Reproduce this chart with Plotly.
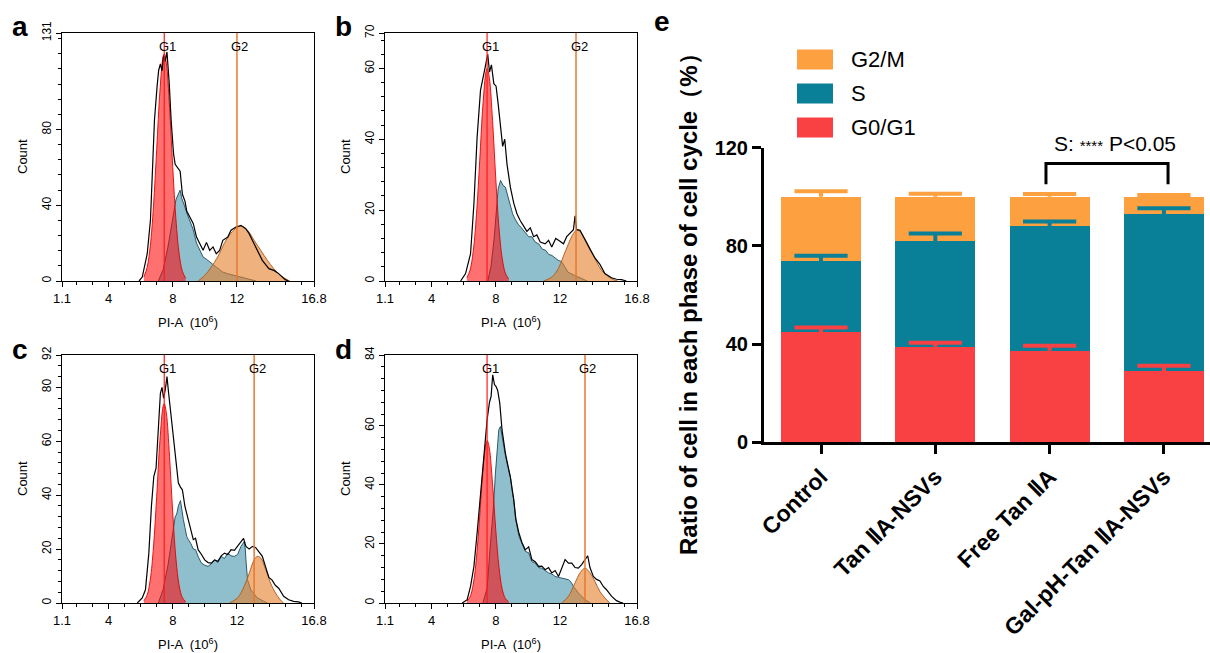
import plotly.graph_objects as go

W, H = 1210, 653

# ---------------- Panel e: percentage of cells in each phase ----------------
groups = ["Control", "Tan ⅡA-NSVs", "Free Tan ⅡA", "Gal-pH-Tan ⅡA-NSVs"]
g0g1_pct = [44.8, 38.9, 37.3, 29.0]
s_pct = [29.0, 43.1, 50.8, 63.9]
g2m_pct = [26.2, 18.0, 11.9, 7.1]
g0g1_err = [2.0, 1.6, 2.0, 2.2]
s_err = [2.2, 3.1, 1.8, 2.4]
g2m_err = [2.3, 1.2, 1.1, 0.7]
e_yticks = [0, 40, 80, 120]
phase_names = ["G2/M", "S", "G0/G1"]

# ---------------- Panels a-d: PI-A histograms ----------------
pi_ticks = [1.1, 4, 8, 12, 16.8]
pi_ticklabels = ["1.1", "4", "8", "12", "16.8"]
pi_minor = [2, 3, 5, 6, 7, 9, 10, 11, 13, 14, 15, 16]
g1_grid = [6.2, 6.4, 6.6, 6.8, 7.0, 7.2, 7.4, 7.47, 7.6, 7.8, 8.0, 8.2, 8.4, 8.6, 8.8]

# panel a
a_yticks = [0, 40, 80, 131]
a_yminor = [8, 16, 24, 32, 48, 56, 64, 72, 88, 96, 104, 112, 120, 128]
a_gates = [7.47, 12.0]
a_hist_x = [5.90, 6.10, 6.41, 6.61, 6.76, 6.86, 7.02, 7.12, 7.23, 7.33,
            7.43, 7.53, 7.64, 7.74, 7.78, 7.90, 8.05, 8.15, 8.29, 8.46,
            8.60, 8.76, 8.87, 9.07, 9.28, 9.48, 9.69, 9.89, 10.10, 10.30,
            10.51, 10.71, 10.92, 11.12, 11.43, 11.63, 11.94, 12.25, 12.55, 12.76,
            12.96, 13.27, 13.58, 13.99, 14.30, 14.60, 14.81, 15.01, 15.22]
a_hist_y = [0, 2.1, 14.4, 32.0, 63.7, 84.8, 102.4, 111.2, 114.7, 111.0,
            119.0, 116.0, 121.0, 112.0, 104.6, 84.8, 67.2, 61.6, 59.8, 58.0,
            45.8, 42.2, 37.0, 33.4, 30.3, 23.2, 19.7, 16.2, 20.4, 16.2,
            18.0, 14.4, 16.2, 21.5, 23.2, 26.8, 28.5, 29.4, 27.6, 25.0,
            21.5, 16.2, 10.9, 6.5, 5.6, 3.9, 2.1, 0.7, 0]
a_g1_y = [2.2, 7.1, 18.5, 39.6, 69.6, 100.2, 118.6, 120, 115.1, 91.7, 60, 32.2, 14.2, 5.1, 1.5]
a_s_x = [7.1, 7.4, 7.7, 7.9, 8.05, 8.2, 8.35, 8.46, 8.55, 8.65, 8.76, 8.87, 8.97, 9.1,
         9.28, 9.48, 9.69, 9.89, 10.1, 10.3, 10.5, 10.7, 10.9, 11.1, 11.4, 11.8, 12.2, 12.8, 13.2]
a_s_y = [0, 6, 18, 28, 37, 43, 46, 48, 44, 41, 39, 36, 34, 31,
         27, 20, 16, 12.7, 11.5, 10, 9, 7.4, 6.2, 4.8, 3.9, 3, 2, 0.7, 0]
a_g2_x = [9.58, 10.0, 10.4, 10.8, 11.2, 11.6, 12.04, 12.25, 12.66, 13.07, 13.48, 13.89, 14.3, 14.7, 15.12, 15.3]
a_g2_y = [0, 3, 7.4, 12.7, 19.7, 25, 28.5, 29, 26.8, 21.5, 16.2, 11, 6.5, 3, 0.7, 0]

# panel b
b_yticks = [0, 20, 40, 60, 70]
b_yminor = [4, 8, 12, 16, 24, 28, 32, 36, 44, 48, 52, 56, 64, 68]
b_gates = [7.46, 13.0]
b_hist_x = [5.81, 6.12, 6.43, 6.64, 6.84, 7.05, 7.26, 7.40,
            7.50, 7.61, 7.73, 7.88, 8.02, 8.15, 8.29, 8.43, 8.56, 8.70,
            8.91, 9.12, 9.32, 9.53, 9.74, 9.94, 10.15, 10.36, 10.56, 10.77,
            11.08, 11.29, 11.49, 11.74, 11.91, 12.22, 12.42, 12.63, 12.84, 12.94,
            13.04, 13.25, 13.56, 13.87, 14.18, 14.49, 14.80, 15.21, 15.52, 15.83, 16.14]
b_hist_y = [0, 2.1, 7.7, 21.8, 40.6, 53.8, 58.5, 61.5,
            64, 59, 61, 55.7, 55, 50, 44.4, 38, 40, 33,
            26.5, 22, 19, 17, 15.5, 14, 15, 12.5, 13, 11,
            10.5, 11.5, 9.6, 12, 11.5, 10.5, 12.5, 13.4, 14.5, 18.4,
            14.5, 14.3, 11.5, 9, 6.5, 4.7, 2.1, 0.9, 0.5, 0.4, 0]
b_g1_y = [0.9, 3.1, 8.5, 18.8, 33.9, 49.7, 59.2, 60, 57.4, 45.3, 29, 15.1, 6.4, 2.2, 0.6]
b_s_x = [7.5, 7.7, 7.9, 8.05, 8.15, 8.3, 8.45, 8.6, 8.75, 8.91,
         9.05, 9.2, 9.4, 9.6, 9.84, 10.05, 10.25, 10.45, 10.67, 10.9,
         11.1, 11.3, 11.5, 11.7, 11.9, 12.1, 12.3, 12.5, 12.9, 13.3, 13.7]
b_s_y = [0, 4, 12, 20, 26, 28.4, 27, 26.5, 24, 21,
         19, 17.5, 16, 15, 13.5, 12.5, 12.5, 11, 10.5, 9,
         8.7, 7.5, 7.2, 6.5, 5.8, 5.5, 4, 2.5, 1.6, 0.7, 0]
b_g2_x = [10.98, 11.49, 11.9, 12.2, 12.53, 12.84, 13.1, 13.35, 13.66, 13.97, 14.28, 14.59, 14.9, 15.32, 15.6]
b_g2_y = [0, 1.1, 3.5, 6.8, 10.5, 13.4, 14.5, 13.4, 11, 8.2, 5.4, 3, 1.6, 0.4, 0]

# panel c
c_yticks = [0, 20, 40, 60, 80, 92]
c_yminor = [4, 8, 12, 16, 24, 28, 32, 36, 44, 48, 52, 56, 64, 68, 72, 76, 84, 88]
c_gates = [7.47, 13.07]
c_hist_x = [5.79, 6.10, 6.30, 6.51, 6.67, 6.82, 6.96, 7.08, 7.23, 7.33,
            7.43, 7.53, 7.64, 7.74, 7.84, 7.94, 8.09, 8.21, 8.35, 8.48,
            8.60, 8.76, 8.97, 9.13, 9.28, 9.42, 9.58, 9.79, 9.99, 10.20,
            10.40, 10.61, 10.81, 11.02, 11.22, 11.43, 11.63, 11.84, 12.04, 12.25,
            12.41, 12.56, 12.76, 12.97, 13.17, 13.37, 13.58, 13.78, 13.99, 14.19,
            14.40, 14.60, 14.91, 15.22, 15.53, 15.83, 16.04]
c_hist_y = [0, 1.9, 4.9, 18.5, 35.8, 47, 50, 64, 77.8, 80,
            76, 79, 84, 78, 72.9, 66.7, 58, 54, 44.5, 43,
            42, 35.8, 30.9, 27, 23.5, 24, 19.8, 18, 16, 15,
            14.8, 16, 15.5, 17.5, 18.5, 18, 19.8, 19.5, 21, 22.5,
            24, 21, 20, 21, 20.5, 19, 17.3, 13.5, 9.5, 8.5,
            6.5, 5.5, 2.5, 1.2, 0.6, 0.4, 0]
c_g1_y = [0.8, 2.9, 8.7, 20.8, 39.6, 60.2, 73, 74, 70.5, 54.3, 33.4, 16.3, 6.4, 2, 0.5]
c_s_x = [7.1, 7.4, 7.7, 7.9, 8.05, 8.15, 8.25, 8.35, 8.48, 8.56,
         8.66, 8.76, 8.87, 8.97, 9.13, 9.28, 9.42, 9.6, 9.79, 10.0,
         10.2, 10.4, 10.61, 10.81, 11.02, 11.22, 11.43, 11.63, 11.84, 12.04,
         12.25, 12.45, 12.52, 12.56, 12.66, 12.86, 13.27, 13.68, 13.9]
c_s_y = [0, 5, 14, 22, 28, 32, 33, 36, 38, 34,
         31, 28, 24.7, 23.5, 22, 20, 19.8, 17, 14.8, 14,
         13.6, 14.5, 16, 15, 17.3, 16.5, 18.5, 17.5, 17.3, 18,
         21, 22.8, 20, 16, 8.6, 4.9, 1.9, 0.6, 0]
c_g2_x = [11.53, 12.04, 12.45, 12.76, 13.07, 13.27, 13.48, 13.79, 14.09, 14.4, 14.7, 14.9]
c_g2_y = [0, 1.9, 6.2, 11, 16, 17.3, 16.7, 12.4, 7.4, 3.7, 1.2, 0]

# panel d
d_yticks = [0, 20, 40, 60, 84]
d_yminor = [4, 8, 12, 16, 24, 28, 32, 36, 44, 48, 52, 56, 64, 68, 72, 76, 80]
d_gates = [7.46, 13.56]
d_hist_x = [5.91, 6.22, 6.43, 6.64, 6.84, 7.05, 7.26, 7.46, 7.61, 7.71,
            7.81, 7.92, 8.02, 8.12, 8.25, 8.39, 8.60, 8.77, 8.93, 9.12,
            9.26, 9.43, 9.63, 9.84, 10.05, 10.25, 10.46, 10.67, 10.87, 11.08,
            11.29, 11.49, 11.70, 11.91, 12.11, 12.32, 12.53, 12.74, 12.94, 13.15,
            13.35, 13.56, 13.73, 13.87, 14.08, 14.28, 14.49, 14.70, 14.90, 15.21,
            15.52, 15.73, 15.93]
d_hist_y = [0, 1.1, 5.6, 12.4, 23.7, 37.2, 51.9, 62, 68, 70,
            77.3, 74, 73.3, 72, 67.7, 58.7, 50.8, 46, 42, 35,
            28.2, 24, 20.5, 18, 19, 14.7, 14, 12.4, 12.5, 11.3,
            12, 10.2, 11, 9, 11.5, 14.7, 13.5, 13.5, 12, 11.8,
            13, 14.7, 16, 12, 9, 8, 7.5, 5.6, 4.5, 2.3,
            0.8, 0.3, 0]
d_g1_y = [0.6, 2.1, 6.4, 15.4, 29.4, 44.8, 54.2, 55, 52.4, 40.4, 24.8, 12.2, 4.7, 1.5, 0.4]
d_s_x = [7.2, 7.46, 7.67, 7.85, 7.98, 8.08, 8.19, 8.29, 8.4, 8.5,
         8.6, 8.7, 8.8, 8.91, 9.02, 9.12, 9.22, 9.32, 9.45, 9.63,
         9.84, 10.05, 10.25, 10.46, 10.67, 10.87, 11.08, 11.29, 11.5, 11.7,
         11.9, 12.11, 12.32, 12.53, 12.7, 12.84, 13.15, 13.56, 13.9]
d_s_y = [0, 5, 20, 32, 44, 52, 58.7, 59.8, 56, 53,
         50, 47.4, 45, 42.9, 38, 35, 29, 26, 22.5, 20.3,
         17.5, 17, 14, 13.5, 12, 11.8, 11, 10.2, 9.8, 9,
         8.7, 8.5, 8.2, 7.9, 7, 5.6, 3.4, 1.1, 0]
d_g2_x = [12.11, 12.53, 12.94, 13.25, 13.56, 13.87, 14.18, 14.49, 14.8, 15.11]
d_g2_y = [0, 2.3, 6.8, 10.2, 11.8, 10.2, 7.3, 3.9, 1.7, 0]

# ---------------- styling ----------------
FONT = "Arial, Liberation Sans, Helvetica, sans-serif"
C_G0 = "#F94144"
C_S = "#0A7F98"
C_G2 = "#FDA040"
S_FILL = "rgba(40,130,160,0.52)"
S_LINE = "rgba(25,75,95,0.9)"
G1_FILL = "rgba(255,0,0,0.56)"
G2_FILL = "rgba(228,125,40,0.60)"
G2_LINE = "rgba(175,95,30,0.95)"


def px(x):
    return x / W


def py(y):
    return 1 - y / H


panels = [
    dict(name="a", xs=(62, 314), ys=(33, 281), yticks=a_yticks, yminor=a_yminor, gates=a_gates,
         hx=a_hist_x, hy=a_hist_y, g1y=a_g1_y, sx=a_s_x, sy=a_s_y, g2x=a_g2_x, g2y=a_g2_y),
    dict(name="b", xs=(385, 637), ys=(33, 281), yticks=b_yticks, yminor=b_yminor, gates=b_gates,
         hx=b_hist_x, hy=b_hist_y, g1y=b_g1_y, sx=b_s_x, sy=b_s_y, g2x=b_g2_x, g2y=b_g2_y),
    dict(name="c", xs=(62, 314), ys=(355, 603), yticks=c_yticks, yminor=c_yminor, gates=c_gates,
         hx=c_hist_x, hy=c_hist_y, g1y=c_g1_y, sx=c_s_x, sy=c_s_y, g2x=c_g2_x, g2y=c_g2_y),
    dict(name="d", xs=(385, 637), ys=(355, 603), yticks=d_yticks, yminor=d_yminor, gates=d_gates,
         hx=d_hist_x, hy=d_hist_y, g1y=d_g1_y, sx=d_s_x, sy=d_s_y, g2x=d_g2_x, g2y=d_g2_y),
]

fig = go.Figure()
layout = dict(
    width=W, height=H, margin=dict(l=0, r=0, t=0, b=0, pad=0, autoexpand=False),
    paper_bgcolor="white", plot_bgcolor="rgba(0,0,0,0)",
    showlegend=False, font=dict(family=FONT, color="black"),
    barmode="stack",
)
annotations = []
shapes = []

for i, p in enumerate(panels, start=1):
    xa = "x" if i == 1 else f"x{i}"
    ya = "y" if i == 1 else f"y{i}"
    common = dict(xaxis=xa, yaxis=ya, hoverinfo="skip", showlegend=False)
    # S phase component
    fig.add_trace(go.Scatter(x=p["sx"], y=p["sy"], mode="lines", fill="tozeroy",
                             fillcolor=S_FILL, line=dict(color=S_LINE, width=1), **common))
    # G1 component
    fig.add_trace(go.Scatter(x=g1_grid, y=p["g1y"], mode="lines", fill="tozeroy",
                             fillcolor=G1_FILL, line=dict(color="rgba(230,0,0,0.9)", width=1),
                             line_shape="spline", **common))
    # G2 component
    fig.add_trace(go.Scatter(x=p["g2x"], y=p["g2y"], mode="lines", fill="tozeroy",
                             fillcolor=G2_FILL, line=dict(color=G2_LINE, width=1),
                             line_shape="spline", **common))
    # raw histogram outline
    fig.add_trace(go.Scatter(x=p["hx"], y=p["hy"], mode="lines",
                             line=dict(color="black", width=1.2), **common))

    xkey = "xaxis" if i == 1 else f"xaxis{i}"
    ykey = "yaxis" if i == 1 else f"yaxis{i}"
    layout[xkey] = dict(
        domain=[px(p["xs"][0]), px(p["xs"][1])], anchor=ya, range=[1.1, 16.8],
        automargin=False,
        tickmode="array", tickvals=pi_ticks, ticktext=pi_ticklabels,
        ticks="outside", ticklen=5, tickwidth=1, tickcolor="black",
        showline=True, linecolor="black", linewidth=1, mirror=True,
        showgrid=False, zeroline=False, tickfont=dict(size=13, color="black"),
        minor=dict(tickmode="array", tickvals=pi_minor, ticks="outside", ticklen=3,
                   tickwidth=1, tickcolor="black", showgrid=False),
    )
    layout[ykey] = dict(
        domain=[py(p["ys"][1]), py(p["ys"][0])], anchor=xa, range=[0, p["yticks"][-1]],
        automargin=False,
        tickmode="array", tickvals=p["yticks"], tickangle=-90,
        ticks="outside", ticklen=5, tickwidth=1, tickcolor="black",
        showline=True, linecolor="black", linewidth=1, mirror=True,
        showgrid=False, zeroline=False, tickfont=dict(size=12, color="black"),
        minor=dict(tickmode="array", tickvals=p["yminor"], ticks="outside", ticklen=3,
                   tickwidth=1, tickcolor="black", showgrid=False),
    )
    # gate lines
    g1, g2 = p["gates"]
    shapes.append(dict(type="line", xref=xa, yref=f"{ya} domain", x0=g1, x1=g1, y0=0, y1=1,
                       line=dict(color="#ff1a1a", width=1.2)))
    shapes.append(dict(type="line", xref=xa, yref=f"{ya} domain", x0=g2, x1=g2, y0=0, y1=1,
                       line=dict(color="#e8782e", width=1.5)))
    for g, lab in ((g1, "G1"), (g2, "G2")):
        annotations.append(dict(x=g, y=1, xref=xa, yref=f"{ya} domain", text=lab,
                                showarrow=False, xanchor="center", yanchor="top",
                                xshift=3, yshift=-4, font=dict(size=13, color="black")))
    # axis titles
    xc = (p["xs"][0] + p["xs"][1]) / 2
    annotations.append(dict(x=px(xc), y=py(p["ys"][1] + 41), xref="paper", yref="paper",
                            text="PI-A  (10<sup>6</sup>)", showarrow=False,
                            xanchor="center", yanchor="middle", font=dict(size=13)))
    annotations.append(dict(x=px(p["xs"][0] - 40), y=py((p["ys"][0] + p["ys"][1]) / 2),
                            xref="paper", yref="paper", text="Count", textangle=-90,
                            showarrow=False, xanchor="center", yanchor="middle",
                            font=dict(size=13)))
    # panel letter
    annotations.append(dict(x=px(p["xs"][0] - 42), y=py(p["ys"][0] - 6), xref="paper", yref="paper",
                            text=f"<b>{p['name']}</b>", showarrow=False,
                            xanchor="center", yanchor="middle", font=dict(size=28)))

# ---------------- panel e ----------------
xpos = list(range(len(groups)))
seg_values = [g0g1_pct, s_pct, g2m_pct]
seg_errs = [g0g1_err, s_err, g2m_err]
seg_colors = [C_G0, C_S, C_G2]
seg_names = ["G0/G1", "S", "G2/M"]
for vals, col, nm in zip(seg_values, seg_colors, seg_names):
    fig.add_trace(go.Bar(x=xpos, y=vals, width=0.7, marker=dict(color=col, line=dict(width=0)),
                         name=nm, xaxis="x5", yaxis="y5", hoverinfo="skip"))
# error bars (upper only) at the top of each stacked segment: stem + cap
cum = [0.0] * len(groups)
for vals, errs, col in zip(seg_values, seg_errs, seg_colors):
    cum = [c + v for c, v in zip(cum, vals)]
    fig.add_trace(go.Scatter(x=xpos, y=cum, mode="markers",
                             marker=dict(size=1, color="rgba(0,0,0,0)"),
                             error_y=dict(type="data", symmetric=False, array=errs,
                                          arrayminus=[0] * len(errs), color=col,
                                          thickness=4, width=0),
                             xaxis="x5", yaxis="y5", hoverinfo="skip"))
    fig.add_trace(go.Scatter(x=xpos, y=[c + e for c, e in zip(cum, errs)], mode="markers",
                             marker=dict(symbol="line-ew", size=38, color=col,
                                         line=dict(color=col, width=4)),
                             xaxis="x5", yaxis="y5", hoverinfo="skip"))

layout["xaxis5"] = dict(
    domain=[px(764), 1.0], anchor="y5", range=[-0.4987, 3.403], automargin=False,
    tickmode="array", tickvals=xpos, ticktext=groups, tickangle=-45,
    ticks="outside", ticklen=9, tickwidth=3, tickcolor="black",
    showline=True, linecolor="black", linewidth=3, showgrid=False, zeroline=False,
    tickfont=dict(size=23, color="black", weight="bold"),
)
layout["yaxis5"] = dict(
    domain=[py(442.3), py(147.7)], anchor="x5", range=[0, 120], automargin=False,
    tickmode="array", tickvals=e_yticks,
    ticks="outside", ticklen=9, tickwidth=3, tickcolor="black",
    showline=True, linecolor="black", linewidth=3, showgrid=False, zeroline=False,
    tickfont=dict(size=20, color="black", weight="bold"),
)

annotations.append(dict(x=px(688), y=py(298), xref="paper", yref="paper",
                        text="<b>Ratio of cell in each phase of cell cycle（%）</b>",
                        textangle=-90, showarrow=False, xanchor="center", yanchor="middle",
                        font=dict(size=24)))
annotations.append(dict(x=px(662), y=py(21), xref="paper", yref="paper", text="<b>e</b>",
                        showarrow=False, xanchor="center", yanchor="middle", font=dict(size=28)))

# legend
leg_cols = {"G2/M": C_G2, "S": C_S, "G0/G1": C_G0}
for k, nm in enumerate(phase_names):
    yc = 59.5 + 34 * k
    shapes.append(dict(type="rect", xref="paper", yref="paper",
                       x0=px(797), x1=px(833), y0=py(yc + 10), y1=py(yc - 10),
                       fillcolor=leg_cols[nm], line=dict(width=0)))
    annotations.append(dict(x=px(849), y=py(yc), xref="paper", yref="paper", text=nm,
                            showarrow=False, xanchor="left", yanchor="middle",
                            font=dict(size=22)))

# significance bracket
shapes.append(dict(type="path", xref="x5", yref="y5",
                   path="M 1.968,105.1 L 1.968,113.6 L 3.036,113.6 L 3.036,105.1",
                   line=dict(color="black", width=3)))
annotations.append(dict(x=px(1115), y=py(143), xref="paper", yref="paper",
                        text="S: <span style='font-size:15px'>****</span> P&lt;0.05",
                        showarrow=False, xanchor="center", yanchor="middle",
                        font=dict(size=21)))

layout["annotations"] = annotations
layout["shapes"] = shapes
fig.update_layout(**layout)
fig.write_html("out.html", config={"displayModeBar": False},
               post_script="document.body.style.margin='0';document.body.style.padding='0';")
